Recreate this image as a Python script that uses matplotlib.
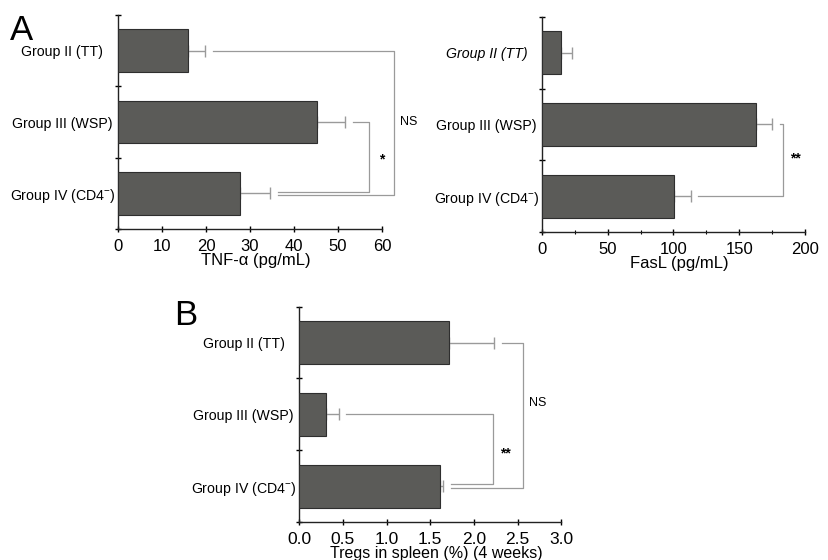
import matplotlib
matplotlib.use("Agg")
import matplotlib.pyplot as plt
import numpy as np

plt.rcParams['font.family'] = ['Liberation Sans', 'DejaVu Sans']
plt.rcParams['mathtext.fontset'] = 'custom'
plt.rcParams['mathtext.rm'] = 'Liberation Sans'

# datos
grupos = ['Group II (TT)', 'Group III (WSP)', 'Group IV (CD4$^{-}$)']

tnf_media = [16.0, 45.3, 27.7]
tnf_error = [3.8, 6.2, 6.8]

fasl_media = [14.5, 163.0, 100.4]
fasl_error = [8.3, 11.7, 12.6]

tregs_media = [1.72, 0.31, 1.61]
tregs_error = [0.51, 0.14, 0.04]

# brackets de significancia: (grupo_a, grupo_b, nivel_x, texto, y_texto)
sig_tnf = [(1, 2, 57.0, '*', 1.52), (0, 2, 62.7, 'NS', 1.0)]
sig_fasl = [(1, 2, 183.0, '**', 1.48)]
sig_tregs = [(1, 2, 2.22, '**', 1.54), (0, 2, 2.56, 'NS', 0.84)]

COLOR_BARRA = '#5b5b58'
COLOR_LINEA = '#9a9a9a'

fig = plt.figure(figsize=(8.29, 5.6), dpi=100)
ax1 = fig.add_axes([0.1423, 0.591, 0.3185, 0.382])
ax2 = fig.add_axes([0.6538, 0.5857, 0.3172, 0.384])
ax3 = fig.add_axes([0.361, 0.0679, 0.316, 0.3845])


def panel(ax, media, error, xmax, paso, xlabel, sig, fmt, lab_fs, tick_fs=12,
          minor=None, italic_first=False):
    y = np.arange(len(grupos))
    ax.barh(y, media, height=0.6, color=COLOR_BARRA, edgecolor='#2e2e2e',
            linewidth=0.8, zorder=3)
    ax.errorbar(media, y, xerr=[np.zeros(len(media)), error], fmt='none',
                ecolor=COLOR_LINEA, elinewidth=1.0, capsize=4, capthick=1.0, zorder=2)
    ax.set_xlim(0, xmax)
    ax.set_ylim(2.5, -0.5)
    ax.set_xticks(np.arange(0, xmax + paso / 2, paso))
    if minor:
        ax.set_xticks(np.arange(minor, xmax, paso), minor=True)
    ax.xaxis.set_major_formatter(plt.FormatStrFormatter(fmt))
    ax.set_yticks(y)
    ax.set_yticklabels(grupos, fontsize=10.2, ha='center')
    if italic_first:
        ax.get_yticklabels()[0].set_style('italic')
    ax.set_yticks([-0.5, 0.5, 1.5, 2.5], minor=True)
    ax.tick_params(axis='y', which='major', length=0, pad=40)
    ax.tick_params(axis='y', which='minor', length=4, direction='inout', width=1)
    ax.tick_params(axis='x', which='major', length=4, direction='inout', width=1,
                   labelsize=tick_fs, pad=5.5)
    ax.tick_params(axis='x', which='minor', length=3, direction='inout', width=0.8)
    ax.set_xlabel(xlabel, fontsize=lab_fs, labelpad=-1, x=0.522)
    for s in ['top', 'right']:
        ax.spines[s].set_visible(False)
    for s in ['left', 'bottom']:
        ax.spines[s].set_linewidth(1.0)
        ax.spines[s].set_color('#222222')

    # lineas de significancia
    gap = 0.03 * xmax
    desplaz = [-0.025, 0.025] if len(sig) > 1 else [0.0]
    for (a, b, nivel, texto, ytexto), dy in zip(sig, desplaz):
        yb = b + dy
        xa = media[a] + error[a] + gap
        xb = media[b] + error[b] + gap
        ax.plot([xa, nivel, nivel, xb], [a, a, yb, yb], color=COLOR_LINEA,
                lw=0.9, clip_on=False, zorder=1)
        if texto == 'NS':
            ax.annotate(texto, (nivel, ytexto), xytext=(11, 0), textcoords='offset points',
                        ha='center', va='center', fontsize=9, annotation_clip=False)
        else:
            ax.annotate(texto, (nivel, ytexto), xytext=(9, 0), textcoords='offset points',
                        ha='center', va='center', fontsize=10, fontweight='bold',
                        annotation_clip=False)


panel(ax1, tnf_media, tnf_error, 60, 10, 'TNF-α (pg/mL)', sig_tnf, '%d', 12)
panel(ax2, fasl_media, fasl_error, 200, 50, 'FasL (pg/mL)', sig_fasl, '%d', 12,
      minor=25, italic_first=True)
panel(ax3, tregs_media, tregs_error, 3.0, 0.5, 'Tregs in spleen (%) (4 weeks)', sig_tregs,
      '%.1f', 11.5, tick_fs=12.5)

fig.text(0.012, 0.928, 'A', fontsize=25)
fig.text(0.21, 0.42, 'B', fontsize=25)

fig.savefig('out.png', dpi=100, facecolor='white')
